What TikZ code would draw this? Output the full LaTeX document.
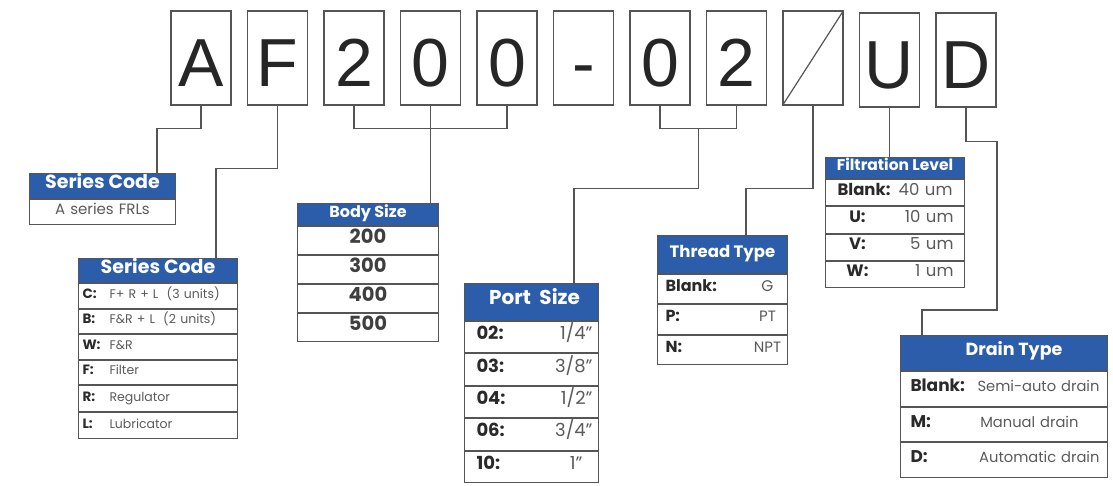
\documentclass[tikz,border=0pt]{standalone}
\usepackage{fontspec}
\setmainfont{Poppins}
\newfontfamily\codefont{Liberation Sans}
\usetikzlibrary{positioning}

\definecolor{hdblue}{HTML}{2C5DAA}
\definecolor{rulegray}{HTML}{555555}
\definecolor{txtgray}{HTML}{5A5A5A}
\definecolor{keygray}{HTML}{2A2A2A}

\newcommand\fsz[1]{\fontsize{#1}{#1}\selectfont}
\newcommand\keyb[1]{\textbf{\color{keygray}#1}}

\tikzset{
  letterbox/.style={draw=rulegray, line width=1.2pt, minimum width=60pt, minimum height=94pt,
    inner sep=0pt, text height=56pt, text depth=0pt, font=\codefont\fsz{68}, text=black!85},
  head/.style={draw=rulegray, line width=1pt, fill=hdblue, text=white, anchor=north west,
    inner sep=0pt, text height=.72em, text depth=.22em},
  cell/.style={draw=rulegray, line width=1pt, anchor=north west, inner sep=0pt, text=txtgray,
    align=left, text height=.72em, text depth=.22em},
  link/.style={rulegray, line width=1.2pt},
}

\begin{document}
\begin{tikzpicture}[x=1pt, y=-1pt, node distance=15.3pt]
  \useasboundingbox (0,0) rectangle (1113,485);

  % model code
  \node[letterbox] (A) at (201,58) {A};
  \node[letterbox, right=of A] (F) {F};
  \node[letterbox, right=of F] (two) {2};
  \node[letterbox, right=of two] (zeroA) {0};
  \node[letterbox, right=of zeroA] (zeroB) {0};
  \node[letterbox, right=of zeroB] (dash) {-};
  \node[letterbox, right=of dash] (zeroC) {0};
  \node[letterbox, right=of zeroC] (twoB) {2};
  \node[letterbox, right=of twoB] (slash) {};
  \node[letterbox, right=of slash, yshift=-2pt] (U) {U};
  \node[letterbox, right=of U] (D) {D};
  \draw[link] (slash.south west) -- (slash.north east);

  % series code (A)
  \node[head, minimum width=146pt, minimum height=25pt, font=\fsz{19}\bfseries] (sc1) at (29,173) {Series Code};
  \node[cell, minimum width=146pt, minimum height=25pt, text width=146pt, align=center, font=\fsz{15}] (sc1a) at (sc1.south west) {A series FRLs};

  % series code (F)
  \node[head, minimum width=159pt, minimum height=24pt, font=\fsz{19}\bfseries] (sc2) at (78,258) {Series Code};
  \node[cell, minimum width=159pt, minimum height=24.5pt, text width=151pt, font=\fsz{12.5}] (sc2a) at (sc2.south west) {\makebox[27pt][l]{\keyb{\fsz{13.5}C:}}F+ R + L\ \ (3 units)};
  \node[cell, minimum width=159pt, minimum height=24.5pt, text width=151pt, font=\fsz{12.5}] (sc2b) at (sc2a.south west) {\makebox[27pt][l]{\keyb{\fsz{13.5}B:}}F\&R + L\ \ (2 units)};
  \node[cell, minimum width=159pt, minimum height=24.5pt, text width=151pt, font=\fsz{12.5}] (sc2c) at (sc2b.south west) {\makebox[27pt][l]{\keyb{\fsz{13.5}W:}}F\&R};
  \node[cell, minimum width=159pt, minimum height=24.5pt, text width=151pt, font=\fsz{12.5}] (sc2d) at (sc2c.south west) {\makebox[27pt][l]{\keyb{\fsz{13.5}F:}}Filter};
  \node[cell, minimum width=159pt, minimum height=26pt, text width=151pt, font=\fsz{12.5}] (sc2e) at (sc2d.south west) {\makebox[27pt][l]{\keyb{\fsz{13.5}R:}}Regulator};
  \node[cell, minimum width=159pt, minimum height=26pt, text width=151pt, font=\fsz{12.5}] (sc2f) at (sc2e.south west) {\makebox[27pt][l]{\keyb{\fsz{13.5}L:}}Lubricator};

  % body size
  \node[head, minimum width=141pt, minimum height=22pt, font=\fsz{16}\bfseries] (body) at (297,203) {Body Size};
  \node[cell, minimum width=141pt, minimum height=28pt, text width=141pt, align=center, font=\fsz{19.5}\bfseries, text=keygray!90] (bodyA) at (body.south west) {200};
  \node[cell, minimum width=141pt, minimum height=28pt, text width=141pt, align=center, font=\fsz{19.5}\bfseries, text=keygray!90] (bodyB) at (bodyA.south west) {300};
  \node[cell, minimum width=141pt, minimum height=28pt, text width=141pt, align=center, font=\fsz{19.5}\bfseries, text=keygray!90] (bodyC) at (bodyB.south west) {400};
  \node[cell, minimum width=141pt, minimum height=28pt, text width=141pt, align=center, font=\fsz{19.5}\bfseries, text=keygray!90] (bodyD) at (bodyC.south west) {500};

  % port size
  \node[head, minimum width=134pt, minimum height=37pt, font=\fsz{20}\bfseries] (port) at (464,283) {\hspace*{6pt}Port\ \ Size};
  \node[cell, minimum width=134pt, minimum height=31.4pt, text width=122pt, font=\fsz{18}] (portA) at (port.south west) {\hspace*{6pt}\keyb{02:}\hfill 1/4"};
  \node[cell, minimum width=134pt, minimum height=31.4pt, text width=122pt, font=\fsz{18}] (portB) at (portA.south west) {\hspace*{6pt}\keyb{03:}\hfill 3/8"};
  \node[cell, minimum width=134pt, minimum height=31.4pt, text width=122pt, font=\fsz{18}] (portC) at (portB.south west) {\hspace*{6pt}\keyb{04:}\hfill 1/2"};
  \node[cell, minimum width=134pt, minimum height=31.4pt, text width=122pt, font=\fsz{18}] (portD) at (portC.south west) {\hspace*{6pt}\keyb{06:}\hfill 3/4"};
  \node[cell, minimum width=134pt, minimum height=31.4pt, text width=122pt, font=\fsz{18}] (portE) at (portD.south west) {\hspace*{6pt}\keyb{10:}\hfill 1"\hspace*{10pt}\mbox{}};

  % thread type
  \node[head, minimum width=130pt, minimum height=38pt, font=\fsz{16.5}\bfseries] (thread) at (657,235) {Thread Type};
  \node[cell, minimum width=130pt, minimum height=29.3pt, text width=126pt, font=\fsz{15.5}] (threadA) at (thread.south west) {\hspace*{6pt}\keyb{\fsz{16}Blank:}\hfill\makebox[36pt][c]{G}};
  \node[cell, minimum width=130pt, minimum height=29.3pt, text width=126pt, font=\fsz{15}] (threadB) at (threadA.south west) {\hspace*{6pt}\keyb{\fsz{16}P:}\hfill\makebox[36pt][c]{PT}};
  \node[cell, minimum width=130pt, minimum height=29.3pt, text width=126pt, font=\fsz{15}] (threadC) at (threadB.south west) {\hspace*{6pt}\keyb{\fsz{16}N:}\hfill\makebox[36pt][c]{NPT}};

  % filtration level
  \node[head, minimum width=139pt, minimum height=21pt, font=\fsz{15.5}\bfseries] (filt) at (825,157) {Filtration Level};
  \node[cell, minimum width=139pt, minimum height=26.25pt, text width=139pt, align=center, font=\fsz{16.5}] (filtA) at (filt.south west) {\keyb{Blank:} 40 um};
  \node[cell, minimum width=139pt, minimum height=26.25pt, text width=117pt, font=\fsz{16.5}] (filtB) at (filtA.south west) {\hspace*{9pt}\makebox[24pt][c]{\keyb{U:}}\hfill 10 um};
  \node[cell, minimum width=139pt, minimum height=26.25pt, text width=117pt, font=\fsz{16.5}] (filtC) at (filtB.south west) {\hspace*{9pt}\makebox[24pt][c]{\keyb{V:}}\hfill 5 um};
  \node[cell, minimum width=139pt, minimum height=26.25pt, text width=117pt, font=\fsz{16.5}] (filtD) at (filtC.south west) {\hspace*{9pt}\makebox[24pt][c]{\keyb{W:}}\hfill 1 um};

  % drain type
  \node[head, minimum width=207pt, minimum height=35pt, font=\fsz{17.5}\bfseries] (drain) at (900,335) {\hspace*{20pt}Drain Type};
  \node[cell, minimum width=207pt, minimum height=34.7pt, text width=191pt, font=\fsz{14.7}] (drainA) at (drain.south west) {\hspace*{2pt}\keyb{\fsz{17}Blank:}\hfill Semi-auto drain};
  \node[cell, minimum width=207pt, minimum height=34.7pt, text width=191pt, font=\fsz{14.7}] (drainB) at (drainA.south west) {\hspace*{2pt}\keyb{\fsz{17}M:}\hfill Manual drain\hspace*{21pt}\mbox{}};
  \node[cell, minimum width=207pt, minimum height=34.7pt, text width=191pt, font=\fsz{14.7}] (drainC) at (drainB.south west) {\hspace*{2pt}\keyb{\fsz{17}D:}\hfill Automatic drain};

  % connectors
  \draw[link] (A.south) -- ++(0,23) -| ([xshift=-19pt]sc1.north east);
  \draw[link] (F.south) -- ++(0,63) -| ([xshift=-22pt]sc2.north east);
  \draw[link] (two.south) -- ++(0,23) -| (zeroB.south);
  \draw[link] (zeroA.south) -- (zeroA.south |- body.north);
  \draw[link] (zeroC.south) -- ++(0,23) -| coordinate[pos=0.25] (pm) (twoB.south);
  \draw[link] (pm) -- ++(0,60) -| ([xshift=-25pt]port.north east);
  \draw[link] (slash.south) -- ++(0,83) -| ([xshift=-42pt]thread.north east);
  \draw[link] (U.south) -- (U.south |- filt.north);
  \draw[link] (D.south) -- ++(0,34) -- ++(31,0) |- ([xshift=22pt, yshift=25pt]drain.north west) -- ([xshift=22pt]drain.north west);
\end{tikzpicture}
\end{document}
